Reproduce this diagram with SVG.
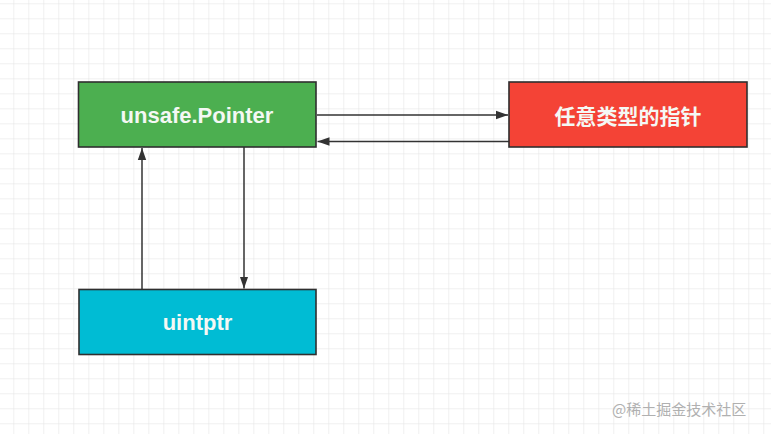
<svg xmlns="http://www.w3.org/2000/svg" width="771" height="434" viewBox="0 0 771 434">
  <defs>
    <pattern id="grid" patternUnits="userSpaceOnUse" x="13.3" y="3.3" width="15" height="15">
      <path d="M0 0 H15 M0 0 V15" fill="none" stroke="#e2e2e2" stroke-width="1"/>
    </pattern>
    <marker id="arr" viewBox="0 0 12 10" refX="12" refY="5" markerWidth="12" markerHeight="10" markerUnits="userSpaceOnUse" orient="auto">
      <path d="M0 0.8 L12 5 L0 9.2 Z" fill="#333"/>
    </marker>
    <style>
      .box { stroke: #2f2f2f; stroke-width: 1.6; }
      .lbl { font-family: "Liberation Sans", "Noto Sans CJK SC", sans-serif; font-weight: bold; font-size: 22px; fill: #f4f8f4; text-anchor: middle; }
      .cjk { font-size: 21px; }
      .conn { stroke: #333; stroke-width: 1.5; fill: none; marker-end: url(#arr); }
      .wm { font-family: "Noto Sans CJK SC", "Liberation Sans", sans-serif; font-size: 15px; fill: #b0b0b0; }
    </style>
  </defs>
  <rect width="771" height="434" fill="#ffffff"/>
  <rect width="771" height="434" fill="url(#grid)"/>

  <g id="connectors">
    <line class="conn" x1="317" y1="115" x2="508" y2="115"/>
    <line class="conn" x1="509" y1="141.5" x2="317.5" y2="141.5"/>
    <line class="conn" x1="142" y1="289" x2="142" y2="148"/>
    <line class="conn" x1="244" y1="147" x2="244" y2="288.5"/>
  </g>

  <g id="node-unsafe-pointer">
    <rect class="box" x="78.5" y="82" width="237.5" height="65" fill="#4caf50"/>
    <text class="lbl" x="197" y="122.5">unsafe.Pointer</text>
  </g>
  <g id="node-any-pointer">
    <rect class="box" x="509" y="82" width="238" height="65" fill="#f44336"/>
    <text class="lbl cjk" x="628" y="123.5">任意类型的指针</text>
  </g>
  <g id="node-uintptr">
    <rect class="box" x="79" y="289.5" width="237" height="65" fill="#00bcd4"/>
    <text class="lbl" x="197.5" y="329.5">uintptr</text>
  </g>

  <text class="wm" x="612" y="415">@稀土掘金技术社区</text>
</svg>
